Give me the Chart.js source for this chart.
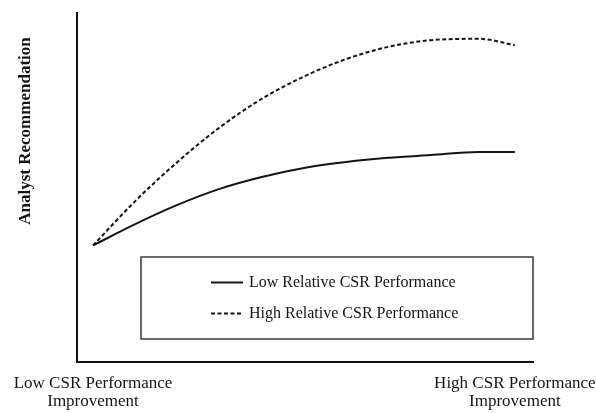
<!DOCTYPE html>
<html>
<head>
<meta charset="utf-8">
<script src="https://cdn.jsdelivr.net/npm/chart.js@4/dist/chart.umd.min.js"></script>
<style>
  html, body { margin: 0; padding: 0; background: #fff; }
  #wrap { width: 596px; height: 413px; }
</style>
</head>
<body>
<div id="wrap"><canvas id="chart" width="596" height="413"></canvas></div>
<script>
// positions along the "CSR performance improvement" axis (arbitrary units)
const xValues = [0, 1, 2, 3, 4, 5, 6, 7, 8, 9.15, 10];
// analyst recommendation (arbitrary units, 0-100)
const lowRelative = [33.4, 39.5, 45.0, 49.6, 53.0, 55.6, 57.3, 58.5, 59.3, 60.2, 60.2];
const highRelative = [33.4, 46.1, 57.3, 67.2, 75.4, 81.8, 86.8, 90.3, 92.2, 92.6, 90.8];
const seriesLabels = ["Low Relative CSR Performance", "High Relative CSR Performance"];
const xTickValues = [0, 10];
const xTickLabels = [
  ["Low CSR Performance", "Improvement"],
  ["High CSR Performance", "Improvement"],
];
const yTitle = "Analyst Recommendation";

const serif = "'Liberation Serif', 'Times New Roman', serif";
const ink = "#141414";

const toPoints = (ys) => ys.map((y, i) => ({ x: xValues[i], y }));

// y-axis title, placed like the original (upper part of the axis)
const yTitlePlugin = {
  id: "yTitle",
  afterDraw(chart) {
    const ctx = chart.ctx;
    ctx.save();
    ctx.translate(26, 131);
    ctx.rotate(-Math.PI / 2);
    ctx.font = "bold 17px " + serif;
    ctx.fillStyle = ink;
    ctx.textAlign = "center";
    ctx.textBaseline = "middle";
    ctx.fillText(yTitle, 0, 0);
    ctx.restore();
  },
};

// boxed legend inside the plot, built from the datasets
const boxLegend = {
  id: "boxLegend",
  afterDraw(chart) {
    const ctx = chart.ctx;
    const area = chart.chartArea;
    const left = area.left + 64, top = area.top + 244;
    const w = area.right - left, h = 82;
    ctx.save();
    ctx.strokeStyle = "#3a3a3a";
    ctx.lineWidth = 1.5;
    ctx.strokeRect(left, top, w, h);
    ctx.font = "16px " + serif;
    ctx.textBaseline = "middle";
    chart.data.datasets.forEach((ds, i) => {
      const y = top + 25.5 + i * 31;
      ctx.strokeStyle = ds.borderColor;
      ctx.lineWidth = ds.borderWidth;
      ctx.setLineDash(ds.borderDash || []);
      ctx.beginPath();
      ctx.moveTo(left + 70, y);
      ctx.lineTo(left + 102, y);
      ctx.stroke();
      ctx.setLineDash([]);
      ctx.fillStyle = ink;
      ctx.fillText(ds.label, left + 108, y);
    });
    ctx.restore();
  },
};

new Chart(document.getElementById("chart"), {
  type: "line",
  data: {
    datasets: [
      {
        label: seriesLabels[0],
        data: toPoints(lowRelative),
        borderColor: ink,
        borderWidth: 2,
        cubicInterpolationMode: "monotone",
        pointRadius: 0,
      },
      {
        label: seriesLabels[1],
        data: toPoints(highRelative),
        borderColor: ink,
        borderWidth: 2,
        borderDash: [4, 2.5],
        cubicInterpolationMode: "monotone",
        pointRadius: 0,
      },
    ],
  },
  options: {
    responsive: false,
    animation: false,
    layout: { padding: { top: 13, right: 63, bottom: 0, left: 0 } },
    scales: {
      x: {
        type: "linear",
        min: -0.38,
        max: 10.43,
        grid: { display: false, drawTicks: false },
        border: { display: true, color: "#111", width: 2 },
        afterBuildTicks: (s) => {
          s.ticks = xTickValues.map((v) => ({ value: v }));
        },
        ticks: {
          autoSkip: false,
          maxRotation: 0,
          padding: 12,
          color: ink,
          font: { family: serif, size: 17, lineHeight: 1.08 },
          callback: (v) => xTickLabels[xTickValues.indexOf(v)],
        },
        afterFit: (s) => {
          s.height = 51;
          s.paddingLeft = 0;
          s.paddingRight = 0;
        },
      },
      y: {
        min: 0,
        max: 100,
        grid: { display: false, drawTicks: false },
        border: { display: true, color: "#111", width: 2 },
        ticks: { display: false },
        afterFit: (s) => {
          s.width = 77;
        },
      },
    },
    plugins: {
      legend: { display: false },
      tooltip: { enabled: false },
    },
  },
  plugins: [yTitlePlugin, boxLegend],
});
</script>
</body>
</html>
